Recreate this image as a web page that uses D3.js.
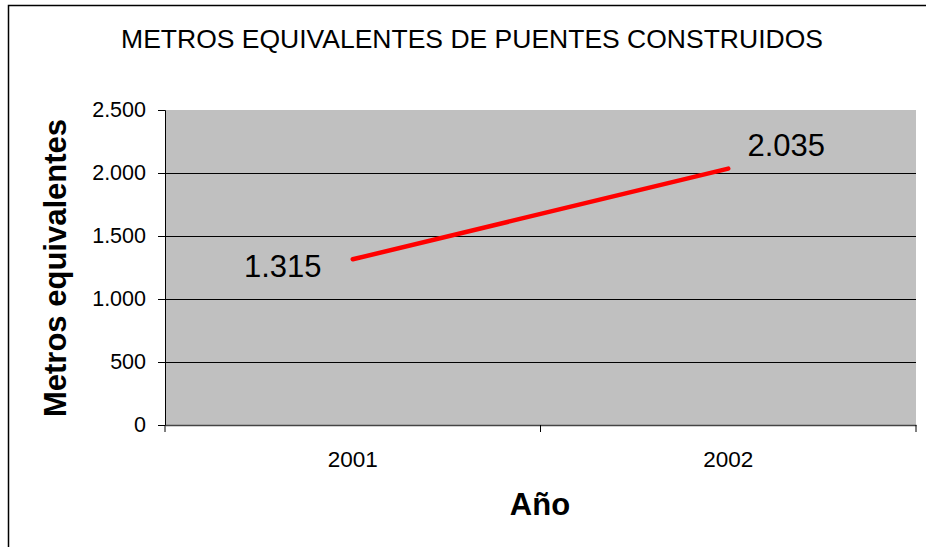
<!DOCTYPE html>
<html>
<head>
<meta charset="utf-8">
<script src="https://cdn.jsdelivr.net/npm/d3@7"></script>
<style>
  body { margin: 0; background: #fff; }
  text { font-family: "Liberation Sans", Arial, sans-serif; }
</style>
</head>
<body>
<svg id="chart" width="926" height="547"></svg>
<script>
// data
const years = ["2001", "2002"];
const metros = [1315, 2035];
const yTicks = [0, 500, 1000, 1500, 2000, 2500];

const margin = { left: 165, right: 10, top: 110, bottom: 122 };
const W = 926, H = 547;
const svg = d3.select('#chart');

// outer frame
svg.append("rect")
    .attr("x", 8.5).attr("y", 5.5)
    .attr("width", W + 10).attr("height", H + 10)
    .attr("fill", "none").attr("stroke", "#000").attr("stroke-width", 1.5);

const x = d3.scaleBand().domain(years).range([margin.left, W - margin.right]);
const y = d3.scaleLinear().domain([0, 2500]).range([H - margin.bottom, margin.top]);

// plot background
svg.append("rect")
    .attr("x", margin.left).attr("y", margin.top)
    .attr("width", W - margin.right - margin.left)
    .attr("height", y(0) - margin.top)
    .attr("fill", "#c0c0c0");

// gridlines
svg.append("g").selectAll("line")
    .data(yTicks.filter(d => d > 0 && d < 2500))
    .join("line")
    .attr("x1", margin.left).attr("x2", W - margin.right)
    .attr("y1", d => Math.round(y(d)) + 0.5).attr("y2", d => Math.round(y(d)) + 0.5)
    .attr("stroke", "#000").attr("stroke-width", 1.2);

const fmt = d => d3.format(",")(d).replace(/,/g, ".");

// y axis
const yAxis = svg.append("g")
    .attr("transform", "translate(" + margin.left + ",0)")
    .call(d3.axisLeft(y).tickValues(yTicks).tickSize(7).tickPadding(12).tickFormat(fmt));
yAxis.selectAll("text").style("font-size", "21.5px").attr("fill", "#000");
yAxis.select(".domain").attr("stroke", "#000");

// x axis
const xAxis = svg.append("g")
    .attr("transform", "translate(0," + y(0) + ")")
    .call(d3.axisBottom(x).tickSize(0).tickPadding(26));
xAxis.selectAll("text").style("font-size", "22.5px").attr("fill", "#000");
xAxis.select(".domain").attr("stroke", "#444").attr("stroke-width", 1.5);
// category separator ticks
const sep = [margin.left, x("2002"), W - margin.right];
svg.append("g").selectAll("line").data(sep).join("line")
    .attr("x1", d => d).attr("x2", d => d)
    .attr("y1", y(0)).attr("y2", y(0) + 7)
    .attr("stroke", "#000");

// line
const line = d3.line()
    .x((d, i) => x(years[i]) + x.bandwidth() / 2)
    .y(d => y(d));
svg.append("path")
    .datum(metros)
    .attr("d", line)
    .attr("fill", "none")
    .attr("stroke", "#ff0000")
    .attr("stroke-width", 4.5)
    .attr("stroke-linecap", "round");

// data labels
svg.append("g").selectAll("text").data(metros).join("text")
    .attr("x", (d, i) => x(years[i]) + x.bandwidth() / 2 + (i === 0 ? -70 : 58))
    .attr("y", (d, i) => y(d) + (i === 0 ? 18 : -13))
    .attr("text-anchor", "middle")
    .style("font-size", "31px")
    .text(fmt);

// titles
svg.append("text")
    .attr("x", 472).attr("y", 48)
    .attr("text-anchor", "middle")
    .style("font-size", "26.5px")
    .text("METROS EQUIVALENTES DE PUENTES CONSTRUIDOS");

svg.append("text")
    .attr("transform", "translate(66,268) rotate(-90)")
    .attr("text-anchor", "middle")
    .style("font-size", "31px").style("font-weight", "bold")
    .text("Metros equivalentes");

svg.append("text")
    .attr("x", 540).attr("y", 515)
    .attr("text-anchor", "middle")
    .style("font-size", "31px").style("font-weight", "bold")
    .text("Año");
</script>
</body>
</html>
